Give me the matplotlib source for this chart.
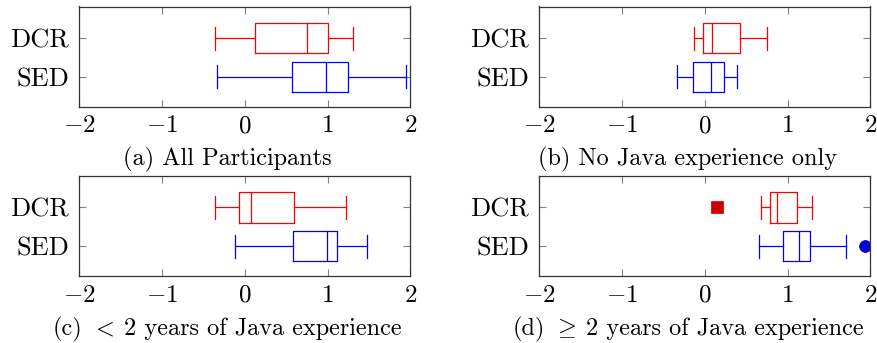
import matplotlib
matplotlib.use("Agg")
import matplotlib.pyplot as plt

plt.rcParams['font.family'] = ['cmr10', 'DejaVu Serif']
plt.rcParams['mathtext.fontset'] = 'cm'
plt.rcParams['axes.unicode_minus'] = False

categories = ["DCR", "SED"]
colors = {"DCR": "#ff0000", "SED": "#0000ff"}
flier_fill = {"DCR": "#cc0000", "SED": "#0000cc"}
flier_marker = {"DCR": "s", "SED": "o"}

x_ticks = [-2, -1, 0, 1, 2]
x_tick_labels = [r"$-2$", r"$-1$", r"$0$", r"$1$", r"$2$"]

# caption pieces: (prefix, math symbol or None, rest)
captions = [
    ("(a) All Participants", None, None),
    ("(b) No Java experience only", None, None),
    ("(c)", r"$<$", "2 years of Java experience"),
    ("(d)", r"$\geq$", "2 years of Java experience"),
]

# [whislo, q1, median, q3, whishi]
a_dcr = [-0.36, 0.12, 0.75, 1.00, 1.31]
a_sed = [-0.33, 0.57, 0.98, 1.24, 1.94]
b_dcr = [-0.13, -0.02, 0.09, 0.43, 0.75]
b_sed = [-0.34, -0.14, 0.07, 0.23, 0.39]
c_dcr = [-0.36, -0.07, 0.07, 0.60, 1.22]
c_sed = [-0.12, 0.58, 0.99, 1.11, 1.48]
d_dcr = [0.68, 0.79, 0.87, 1.11, 1.29]
d_sed = [0.66, 0.95, 1.14, 1.27, 1.70]
a_out = {"DCR": [], "SED": []}
b_out = {"DCR": [], "SED": []}
c_out = {"DCR": [], "SED": []}
d_out = {"DCR": [0.15], "SED": [1.93]}

panels = [
    ({"DCR": a_dcr, "SED": a_sed}, a_out),
    ({"DCR": b_dcr, "SED": b_sed}, b_out),
    ({"DCR": c_dcr, "SED": c_sed}, c_out),
    ({"DCR": d_dcr, "SED": d_sed}, d_out),
]

W, H = 878, 343
fig = plt.figure(figsize=(W / 100, H / 100), dpi=100)
renderer = fig.canvas.get_renderer()

ax_w = 331.5 / W
ax_h = 100.5 / H
lefts = [79 / W, 539 / W, 79 / W, 539 / W]
tops = [6.5, 6.5, 175.8, 175.8]
cap_base = [165.5, 165.5, 335, 335]
cap_center = [227.5, 688, 227.5, 688]
cap_fs = 17.5

positions = {"DCR": 2, "SED": 1}


def text_width(s, fs):
    t = fig.text(0, 0, s, fontsize=fs)
    w = t.get_window_extent(renderer).width
    t.remove()
    return w


space_w = text_width("a a", cap_fs) - text_width("aa", cap_fs)
gap_before = space_w
gap_after = space_w + 2.0

for i, (stats, outs) in enumerate(panels):
    ax = fig.add_axes([lefts[i], 1 - (tops[i] / H) - ax_h, ax_w, ax_h])
    for cat in categories:
        s = stats[cat]
        st = [dict(whislo=s[0], q1=s[1], med=s[2], q3=s[3], whishi=s[4],
                   fliers=outs[cat])]
        c = colors[cat]
        ax.bxp(st, positions=[positions[cat]], vert=False, widths=0.78,
               capwidths=0.6, showfliers=True,
               boxprops=dict(color=c, linewidth=0.9),
               medianprops=dict(color=c, linewidth=0.9),
               whiskerprops=dict(color=c, linewidth=0.9),
               capprops=dict(color=c, linewidth=0.9),
               flierprops=dict(marker=flier_marker[cat],
                               markerfacecolor=flier_fill[cat],
                               markeredgecolor=c, markersize=8.5,
                               markeredgewidth=0.6))
    ax.set_xlim(-2, 2)
    ax.set_ylim(0.22, 2.82)
    ax.set_xticks(x_ticks)
    ax.set_xticklabels(x_tick_labels, fontsize=18)
    ax.set_yticks([positions[c] for c in categories])
    ax.set_yticklabels(categories, fontsize=19)
    ax.tick_params(axis='x', direction='in', top=True, bottom=True,
                   length=5, width=0.8, color='#808080', pad=6)
    ax.tick_params(axis='y', direction='in', left=True, right=True,
                   length=5, width=0.8, color='#808080', pad=7)
    for sp in ax.spines.values():
        sp.set_color('#333333')
        sp.set_linewidth(0.9)

    # caption
    cx_px = cap_center[i]
    y_fig = 1 - cap_base[i] / H
    pre, sym, rest = captions[i]
    if sym is None:
        fig.text(cx_px / W, y_fig, pre, ha='center', va='baseline',
                 fontsize=cap_fs)
    else:
        parts = [pre, sym, rest]
        widths = [text_width(p, cap_fs) for p in parts]
        gaps = [gap_before, gap_after, 0.0]
        total = sum(widths) + gap_before + gap_after
        x = cx_px - total / 2
        for p, w, g in zip(parts, widths, gaps):
            fig.text(x / W, y_fig, p, ha='left', va='baseline',
                     fontsize=cap_fs)
            x += w + g

fig.savefig("out.png", dpi=100)
